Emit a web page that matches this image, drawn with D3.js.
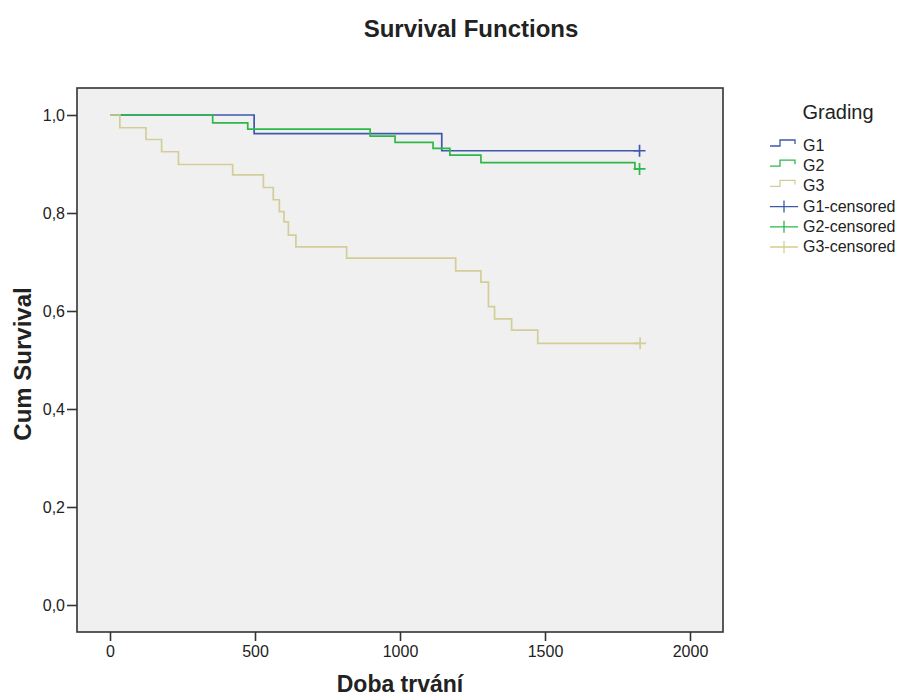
<!DOCTYPE html>
<html lang="en">
<head>
<meta charset="UTF-8">
<title>Survival Functions</title>
<script src="https://cdn.jsdelivr.net/npm/d3@7"></script>
<style>
    body { margin: 0; background: #fff; }
    svg text { font-family: "Liberation Sans", Arial, sans-serif; fill: #222; }
</style>
</head>
<body>
<script>
// values (Kaplan-Meier steps)
const groups = ['G1', 'G2', 'G3']
const groupColours = ['#3E58AC', '#2EB848', '#D3CE97']

const g1Times = [497, 1144]
const g1Surv = [0.962, 0.927]
const g1Censored = 1826

const g2Times = [354, 475, 897, 983, 1114, 1172, 1279, 1810]
const g2Surv = [0.984, 0.971, 0.957, 0.944, 0.932, 0.918, 0.903, 0.890]
const g2Censored = 1826

const g3Times = [34, 124, 178, 236, 423, 529, 563, 584, 600, 615, 641, 816, 1192, 1279, 1305, 1326, 1385, 1475]
const g3Surv = [0.974, 0.950, 0.925, 0.899, 0.878, 0.852, 0.827, 0.803, 0.782, 0.755, 0.731, 0.708, 0.682, 0.659, 0.609, 0.584, 0.561, 0.534]
const g3Censored = 1828

const xTicks = [0, 500, 1000, 1500, 2000]
const yTicks = [0, 0.2, 0.4, 0.6, 0.8, 1.0]

const legendLabels = ['G1', 'G2', 'G3', 'G1-censored', 'G2-censored', 'G3-censored']

const width = 907
const height = 699

const frame = { left: 77, top: 88, right: 723, bottom: 632 }

const xScale = d3.scaleLinear().domain([0, 2000]).range([110, 690])
const yScale = d3.scaleLinear().domain([0, 1]).range([605, 115])

const series = [
    { times: g1Times, surv: g1Surv, censored: g1Censored },
    { times: g2Times, surv: g2Surv, censored: g2Censored },
    { times: g3Times, surv: g3Surv, censored: g3Censored }
]

function stepPoints(s) {
    const pts = [[0, 1]]
    s.times.forEach((t, i) => pts.push([t, s.surv[i]]))
    pts.push([s.censored, s.surv[s.surv.length - 1]])
    return pts
}

const svg = d3.select('body').append('svg')
    .attr('width', width)
    .attr('height', height)

// plot background + frame
svg.append('rect')
    .attr('x', frame.left)
    .attr('y', frame.top)
    .attr('width', frame.right - frame.left)
    .attr('height', frame.bottom - frame.top)
    .attr('fill', '#f0f0f0')
    .attr('stroke', '#333')
    .attr('stroke-width', 1.6)

const commaFormat = (d) => d3.format('.1f')(d).replace('.', ',')

const xAxis = d3.axisBottom(xScale).tickValues(xTicks).tickSize(9).tickPadding(5).tickFormat(d3.format('d'))
const yAxis = d3.axisLeft(yScale).tickValues(yTicks).tickSize(10).tickPadding(2).tickFormat(commaFormat)

const gx = svg.append('g')
    .attr('transform', `translate(0, ${frame.bottom})`)
    .call(xAxis)

const gy = svg.append('g')
    .attr('transform', `translate(${frame.left}, 0)`)
    .call(yAxis)

;[gx, gy].forEach((g) => {
    g.select('.domain').remove()
    g.selectAll('.tick line').attr('stroke', '#333').attr('stroke-width', 1.6)
    g.selectAll('.tick text').attr('font-size', 16).attr('fill', '#222')
})

// survival curves
const line = d3.line()
    .x((d) => xScale(d[0]))
    .y((d) => yScale(d[1]))
    .curve(d3.curveStepAfter)

svg.selectAll('path.curve')
    .data(series)
    .enter()
    .append('path')
    .attr('class', 'curve')
    .attr('d', (d) => line(stepPoints(d)))
    .attr('fill', 'none')
    .attr('stroke', (d, i) => groupColours[i])
    .attr('stroke-width', 1.7)

// censored marks
svg.selectAll('path.censor')
    .data(series)
    .enter()
    .append('path')
    .attr('class', 'censor')
    .attr('d', (d) => {
        const cx = xScale(d.censored)
        const cy = yScale(d.surv[d.surv.length - 1])
        return `M${cx - 6},${cy}H${cx + 6}M${cx},${cy - 6}V${cy + 6}`
    })
    .attr('fill', 'none')
    .attr('stroke', (d, i) => groupColours[i])
    .attr('stroke-width', 1.7)

// titles
svg.append('text')
    .attr('x', 471)
    .attr('y', 37)
    .attr('text-anchor', 'middle')
    .attr('font-size', 24)
    .attr('font-weight', 'bold')
    .text('Survival Functions')

svg.append('text')
    .attr('transform', `translate(31, ${(frame.top + frame.bottom) / 2 + 4}) rotate(-90)`)
    .attr('text-anchor', 'middle')
    .attr('font-size', 24)
    .attr('font-weight', 'bold')
    .text('Cum Survival')

svg.append('text')
    .attr('x', (frame.left + frame.right) / 2)
    .attr('y', 692)
    .attr('text-anchor', 'middle')
    .attr('font-size', 23)
    .attr('font-weight', 'bold')
    .text('Doba trvání')

// legend
const legend = svg.append('g').attr('id', 'legend')

legend.append('text')
    .attr('x', 838)
    .attr('y', 119)
    .attr('text-anchor', 'middle')
    .attr('font-size', 20)
    .text('Grading')

const legendRows = legend.selectAll('g.row')
    .data(legendLabels)
    .enter()
    .append('g')
    .attr('class', 'row')
    .attr('transform', (d, i) => `translate(0, ${151 + i * 20.2})`)

legendRows.append('path')
    .attr('d', (d, i) => i < 3
        ? 'M770,-5H780V-11H795V-7'
        : 'M770,-5H798M784,-11V1')
    .attr('fill', 'none')
    .attr('stroke', (d, i) => groupColours[i % 3])
    .attr('stroke-width', 1.3)

legendRows.append('text')
    .attr('x', 803)
    .attr('y', 0)
    .attr('font-size', 16)
    .text((d) => d)
</script>
</body>
</html>
